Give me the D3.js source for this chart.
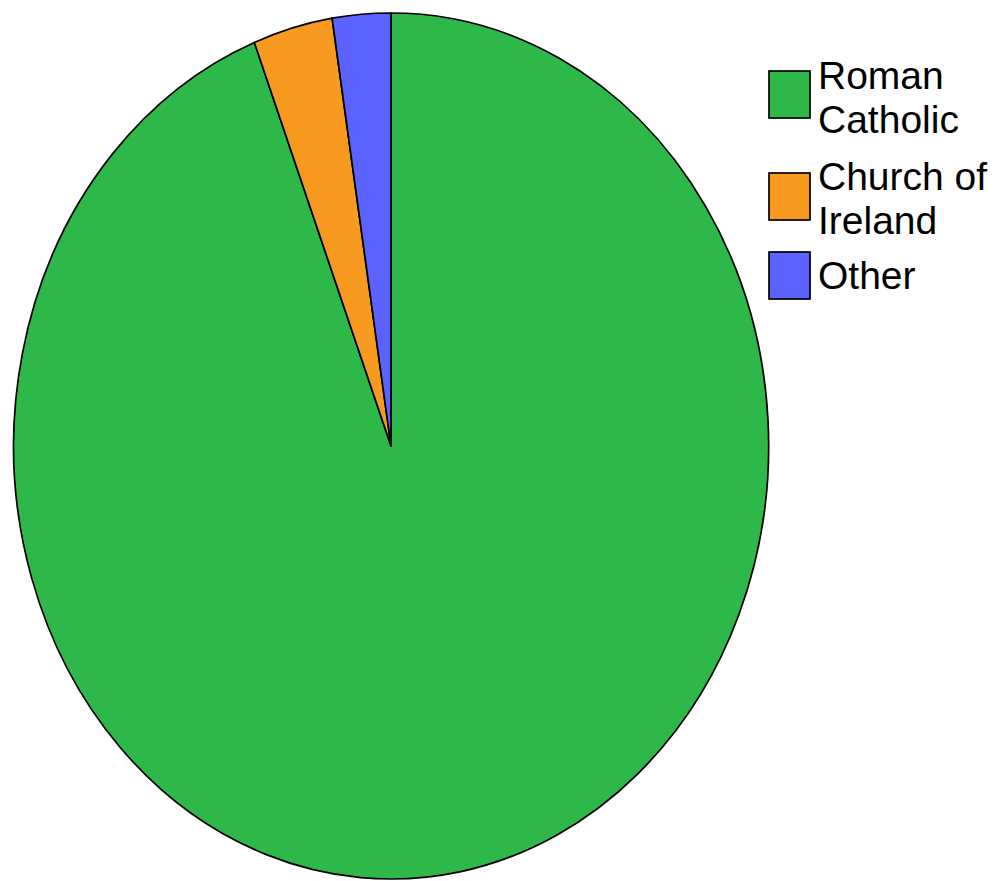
<!DOCTYPE html>
<html>
<head>
<meta charset="utf-8">
<script src="https://cdn.jsdelivr.net/npm/d3@7"></script>
<style>
  html, body { margin: 0; padding: 0; background: #fff; }
  svg { display: block; }
</style>
</head>
<body>
<svg id="chart" width="994" height="881"></svg>
<script>
const categories = ["Roman Catholic", "Church of Ireland", "Other"];
const values = [94.1, 3.4, 2.5];
const colors = ["#2fb84a", "#f89a20", "#5b62ff"];
const legendLines = [["Roman", "Catholic"], ["Church of", "Ireland"], ["Other"]];

const svg = d3.select("#chart");
const cx = 391, cy = 446, rx = 377.5, ry = 433;

const data = categories.map((c, i) => ({ name: c, value: values[i], color: colors[i] }));
const pie = d3.pie().value(d => d.value).sort(null);
const arc = d3.arc().innerRadius(0).outerRadius(1);

const g = svg.append("g").attr("transform", `translate(${cx},${cy}) scale(${rx},${ry})`);
g.selectAll("path")
  .data(pie(data))
  .join("path")
  .attr("d", arc)
  .attr("fill", d => d.data.color)
  .attr("stroke", "#000")
  .attr("stroke-width", 1.7)
  .attr("stroke-linejoin", "round")
  .attr("vector-effect", "non-scaling-stroke");

// Legend
const boxX = 769, boxW = 41, boxH = 47;
const boxY = [71, 173, 252];
const textX = 818;
const lineH = 44;
const baseline0 = [89, 190, 289];

const leg = svg.append("g");
data.forEach((d, i) => {
  leg.append("rect")
    .attr("x", boxX).attr("y", boxY[i])
    .attr("width", boxW).attr("height", boxH)
    .attr("fill", d.color)
    .attr("stroke", "#000").attr("stroke-width", 1.7);
  const t = leg.append("text")
    .attr("x", textX).attr("y", baseline0[i])
    .attr("font-family", "'Liberation Sans', Arial, sans-serif")
    .attr("font-size", 39)
    .attr("fill", "#000");
  legendLines[i].forEach((ln, j) => {
    t.append("tspan").attr("x", textX).attr("y", baseline0[i] + j * lineH).text(ln);
  });
});
</script>
</body>
</html>
